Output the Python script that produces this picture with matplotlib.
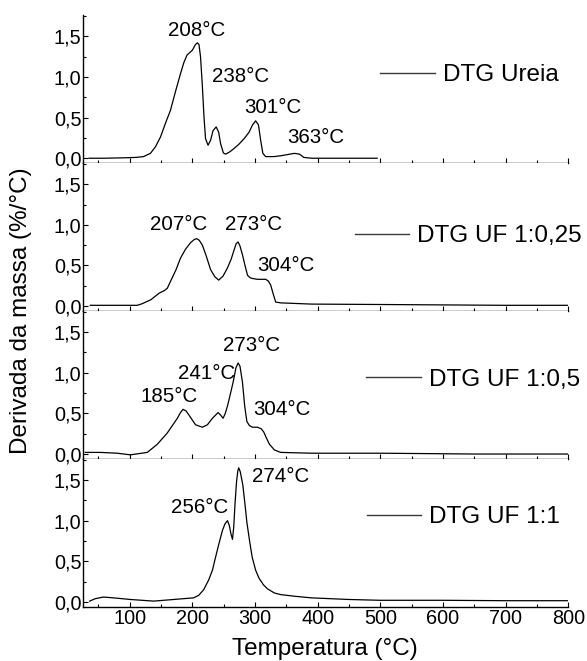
import matplotlib
matplotlib.use("Agg")
import matplotlib.pyplot as plt
from matplotlib.ticker import MultipleLocator, FuncFormatter

plt.rcParams['font.family'] = ['Liberation Sans', 'DejaVu Sans']

# Curvas DTG (temperatura em °C, derivada da massa em %/°C)
t_ureia = [35, 60, 90, 110, 122, 133, 141, 149, 157, 165, 173, 181, 186.5, 191.5, 200,
           205, 208, 210.5, 213, 216, 218.5, 221, 225, 229, 233, 238, 242, 245, 249.5, 253,
           260, 266.5, 274, 282.5, 290.5, 296, 301, 305.5, 309, 312.5, 317, 330, 341, 352, 363,
           371, 378, 390, 420, 460, 495]
dtg_ureia = [0.0, 0.0, 0.005, 0.01, 0.02, 0.06, 0.14, 0.26, 0.43, 0.59, 0.82, 1.04, 1.18, 1.27, 1.33,
             1.40, 1.42, 1.40, 1.25, 0.88, 0.51, 0.24, 0.16, 0.22, 0.34, 0.385, 0.32, 0.18, 0.065, 0.05,
             0.08, 0.12, 0.17, 0.24, 0.32, 0.41, 0.46, 0.41, 0.22, 0.06, 0.02, 0.02, 0.03, 0.045, 0.06,
             0.05, 0.01, 0.0, 0.0, 0.0, 0.0]

t_uf025 = [37, 80, 112, 120, 134, 147, 155, 160, 166, 174, 181, 189, 197, 203, 207,
           211, 216, 222, 229, 236, 242, 249, 256, 262, 266.5, 270, 273, 276, 280, 284,
           288, 292, 296, 304, 312, 317, 321, 325, 329, 333, 341, 390, 500, 600, 700, 800]
dtg_uf025 = [0.01, 0.01, 0.01, 0.03, 0.08, 0.16, 0.19, 0.22, 0.32, 0.45, 0.59, 0.70, 0.78, 0.82, 0.83,
             0.81, 0.75, 0.62, 0.45, 0.36, 0.32, 0.37, 0.47, 0.58, 0.69, 0.77, 0.79, 0.74, 0.63, 0.50,
             0.38, 0.35, 0.34, 0.33, 0.33, 0.33, 0.31, 0.26, 0.15, 0.05, 0.04, 0.025, 0.02, 0.015, 0.01, 0.01]

t_uf05 = [29, 53, 80, 101, 128, 144, 160, 176, 181, 185, 190, 198, 205, 216, 224,
          232, 241, 245, 249, 252.5, 256, 261, 265.5, 269.5, 273, 276, 280, 283.5, 287, 291,
          296, 304, 310, 314, 318, 323, 331, 341, 390, 500, 650, 800]
dtg_uf05 = [0.02, 0.02, 0.01, -0.01, 0.02, 0.12, 0.26, 0.44, 0.51, 0.55, 0.53, 0.44, 0.36, 0.33, 0.36,
            0.44, 0.51, 0.48, 0.44, 0.50, 0.59, 0.75, 0.90, 1.06, 1.12, 1.08, 0.88, 0.59, 0.40, 0.35,
            0.33, 0.33, 0.31, 0.27, 0.20, 0.12, 0.05, 0.02, 0.01, 0.01, 0.0, 0.0]

t_uf11 = [36, 45, 58, 74, 101, 138, 170, 202, 210, 218, 226, 232, 237, 242.5, 248,
          252, 256, 259, 261.5, 264, 266, 268, 270.5, 272.5, 274, 276.5, 280.5, 284, 287, 291.5,
          295.5, 301, 306.5, 313.5, 320, 331, 341, 363, 390, 450, 500, 600, 700, 800]
dtg_uf11 = [0.01, 0.04, 0.06, 0.05, 0.03, 0.01, 0.03, 0.05, 0.08, 0.15, 0.27, 0.39, 0.55, 0.72, 0.88,
            0.96, 1.00, 0.94, 0.84, 0.77, 0.92, 1.20, 1.48, 1.61, 1.65, 1.60, 1.44, 1.20, 0.98, 0.74,
            0.55, 0.39, 0.29, 0.21, 0.16, 0.11, 0.09, 0.07, 0.05, 0.03, 0.02, 0.02, 0.015, 0.015]

labels = ['DTG Ureia', 'DTG UF 1:0,25', 'DTG UF 1:0,5', 'DTG UF 1:1']

# temperaturas de pico anotadas em cada curva
picos_ureia = [208, 238, 301, 363]
picos_uf025 = [207, 273, 304]
picos_uf05 = [185, 241, 273, 304]
picos_uf11 = [256, 274]

# posição (T, y) do texto de cada pico
pos_ureia = [(206.8, 1.575), (277.3, 1.0), (328.1, 0.63), (397.5, 0.25)]
pos_uf025 = [(178, 1.01), (298.2, 1.01), (349.5, 0.50)]
pos_uf05 = [(163, 0.71), (222.9, 0.985), (293.8, 1.33), (343.5, 0.55)]
pos_uf11 = [(211.6, 1.16), (340.6, 1.54)]

# posição da legenda em coordenadas do eixo
leg_pos = [(0.613, 0.595), (0.560, 0.504), (0.584, 0.534), (0.585, 0.606)]

series = [
    (t_ureia, dtg_ureia, picos_ureia, pos_ureia),
    (t_uf025, dtg_uf025, picos_uf025, pos_uf025),
    (t_uf05, dtg_uf05, picos_uf05, pos_uf05),
    (t_uf11, dtg_uf11, picos_uf11, pos_uf11),
]

virgula = FuncFormatter(lambda v, p: f'{v:.1f}'.replace('.', ','))

fig, axes = plt.subplots(4, 1, sharex=True, figsize=(5.87, 6.61), dpi=100)
fig.subplots_adjust(left=0.141, right=0.968, top=0.977, bottom=0.082, hspace=0)

for ax, (t, d, picos, pos), label, lp in zip(axes, series, labels, leg_pos):
    ax.plot(t, d, color='black', lw=0.9, label=label)

    for pico, (tx, ty) in zip(picos, pos):
        ax.text(tx, ty, f'{pico}°C', ha='center', va='center', fontsize=14.8)

    leg = ax.legend(loc='center left', bbox_to_anchor=lp, frameon=False, fontsize=17.5,
                    handlelength=2.25, handletextpad=0.33, borderpad=0, borderaxespad=0)
    for line in leg.get_lines():
        line.set_color('#3a3a3a')
        line.set_linewidth(1.0)

    ax.set_xlim(25, 800)
    ax.set_ylim(-0.06, 1.76)
    ax.yaxis.set_major_locator(MultipleLocator(0.5))
    ax.yaxis.set_minor_locator(MultipleLocator(0.25))
    ax.yaxis.set_major_formatter(virgula)
    ax.xaxis.set_major_locator(MultipleLocator(100))
    ax.xaxis.set_minor_locator(MultipleLocator(50))

    ax.spines['top'].set_visible(False)
    ax.spines['right'].set_visible(False)
    ax.spines['left'].set_linewidth(1.0)
    ax.spines['bottom'].set_linewidth(1.0)

    ax.tick_params(which='both', direction='in', width=0.8, labelsize=14.3)
    ax.tick_params(which='major', length=3.5)
    ax.tick_params(which='minor', length=2)
    ax.tick_params(axis='y', pad=1)
    ax.tick_params(axis='x', pad=1.5)

for ax in axes[:-1]:
    ax.tick_params(axis='x', labelbottom=False)

fig.text(0.036, 0.5295, 'Derivada da massa (%/°C)', rotation=90, ha='center', va='center', fontsize=17.5)
fig.text(0.554, 0.018, 'Temperatura (°C)', ha='center', va='center', fontsize=17.5)

fig.savefig('out.png', dpi=100)
